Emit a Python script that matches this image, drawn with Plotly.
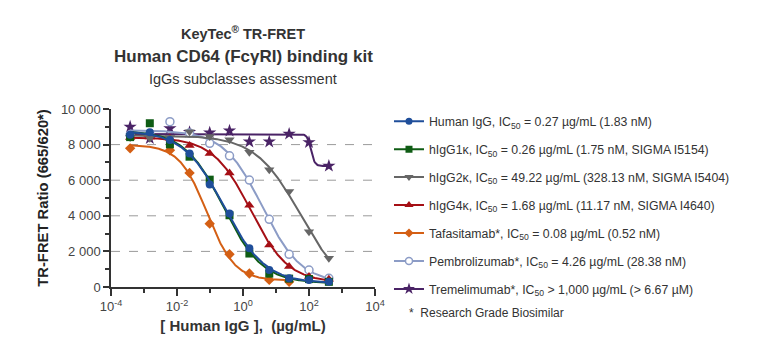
import numpy as np
import plotly.graph_objects as go

# ---------------- data ----------------
CONC = [0.00038, 0.0015, 0.0061, 0.024, 0.098, 0.39, 1.56, 6.25, 25, 100, 400]  # µg/mL

HUMAN_IGG = [8560, 8700, 8260, 7500, 5760, 4130, 2170, 960, 490, 390, 300]
HIGG1K = [8420, 9200, 8015, 7320, 6030, 4030, 1880, 750, 470, 445, 290]
HIGG2K = [8400, 8350, 8400, 8720, 8450, 8270, 7570, 6590, 5360, 3100, 1610]
HIGG4K = [8400, 8420, 8350, 7950, 7500, 6400, 4590, 2360, 1145, 585, 430]
TAFASITAMAB = [7790, None, 7680, 6410, 3560, 1840, 760, 400, 290, None, None]
PEMBROLIZUMAB = [8550, 8600, 9290, 8650, 8070, 7370, 6010, 3800, 1835, 955, 490]
TREMELIMUMAB = [9000, 8350, 8910, 8700, 8670, 8780, 8160, 8160, 8600, 8130, 6800]

SERIES_NAMES = [
    "Human IgG, IC<sub>50</sub> = 0.27 µg/mL (1.83 nM)",
    "hIgG1κ, IC<sub>50</sub> = 0.26 µg/mL (1.75 nM, SIGMA I5154)",
    "hIgG2κ, IC<sub>50</sub> = 49.22 µg/mL (328.13 nM, SIGMA I5404)",
    "hIgG4κ, IC<sub>50</sub> = 1.68 µg/mL (11.17 nM, SIGMA I4640)",
    "Tafasitamab*, IC<sub>50</sub> = 0.08 µg/mL (0.52 nM)",
    "Pembrolizumab*, IC<sub>50</sub> = 4.26 µg/mL (28.38 nM)",
    "Tremelimumab*, IC<sub>50</sub> &gt; 1,000 µg/mL (&gt; 6.67 µM)",
]
SERIES_VALUES = [HUMAN_IGG, HIGG1K, HIGG2K, HIGG4K, TAFASITAMAB, PEMBROLIZUMAB, TREMELIMUMAB]

X_TICK_VALS = [1e-4, 1e-2, 1, 1e2, 1e4]
X_TICK_TEXT = ["10<sup>-4</sup>", "10<sup>-2</sup>", "10<sup>0</sup>", "10<sup>2</sup>", "10<sup>4</sup>"]
X_MINOR_VALS = [1e-3, 1e-1, 1e1, 1e3]
Y_TICK_VALS = [0, 2000, 4000, 6000, 8000, 10000]
Y_TICK_TEXT = ["0", "2 000", "4 000", "6 000", "8 000", "10 000"]
Y_GRID_VALS = [2000, 4000, 6000, 8000]

# ---------------- styles ----------------
STYLES = [
    dict(color="#1f4e9a", symbol="circle", size=8, fill="#1f4e9a", hill=(0.3, 8)),
    dict(color="#0f5c14", symbol="square", size=8, fill="#0f5c14", hill=(0.3, 8)),
    dict(color="#666666", symbol="triangle-down", size=9, fill="#666666", hill=(0.3, 8)),
    dict(color="#a50f15", symbol="triangle-up", size=9, fill="#a50f15", hill=(0.3, 8)),
    dict(color="#d45f14", symbol="diamond", size=8, fill="#d45f14", hill=(0.3, 8)),
    dict(color="#8c9cc6", symbol="circle", size=8, fill="#ffffff", hill=(0.3, 8)),
    dict(color="#4a2366", symbol="star", size=10, fill="#4a2366", hill=(4, 8)),
]
FONT = "Arial, Liberation Sans, sans-serif"
TXT = "#333333"


def fit_4pl(x, y, hill_range):
    """Least-squares 4-parameter logistic fit (grid search on IC50/hill)."""
    x = np.asarray(x, float)
    y = np.asarray(y, float)
    lx = np.log10(x)
    L = np.arange(-4.0, 3.5, 0.01)
    H = np.arange(hill_range[0], hill_range[1], 0.02)
    F = 1.0 / (1.0 + 10.0 ** ((lx[None, None, :] - L[:, None, None]) * H[None, :, None]))
    fm = F.mean(axis=2, keepdims=True)
    ym = y.mean()
    df = F - fm
    a1 = (df * (y - ym)).sum(axis=2) / np.maximum((df ** 2).sum(axis=2), 1e-12)
    a0 = ym - a1 * fm[..., 0]
    pred = a0[..., None] + a1[..., None] * F
    sse = ((pred - y) ** 2).sum(axis=2)
    i, j = np.unravel_index(np.argmin(sse), sse.shape)
    bottom, top = a0[i, j], a0[i, j] + a1[i, j]
    return top, bottom, 10 ** L[i], H[j]


fig = go.Figure()

# dashed horizontal grid lines (none at the top of the axis)
for gv in Y_GRID_VALS:
    fig.add_shape(type="line", xref="paper", yref="y", x0=0, x1=1, y0=gv, y1=gv,
                  line=dict(color="#9a9a9a", width=1, dash="dash"), layer="below")

# draw last series first so the first series sits on top
for name, vals, st in reversed(list(zip(SERIES_NAMES, SERIES_VALUES, STYLES))):
    pts = [(c, v) for c, v in zip(CONC, vals) if v is not None]
    xs = [p[0] for p in pts]
    ys = [p[1] for p in pts]
    top, bottom, ic50, hill = fit_4pl(xs, ys, st["hill"])
    xc = np.logspace(np.log10(min(xs)), np.log10(max(xs)), 300)
    yc = bottom + (top - bottom) / (1 + (xc / ic50) ** hill)
    fig.add_trace(go.Scatter(x=xc, y=yc, mode="lines", showlegend=False,
                             line=dict(color=st["color"], width=2), hoverinfo="skip"))
    fig.add_trace(go.Scatter(x=xs, y=ys, mode="markers", showlegend=False,
                             marker=dict(symbol=st["symbol"], size=st["size"], color=st["fill"],
                                         line=dict(color=st["color"], width=1.5 if st["fill"] == "#ffffff" else 0))))

# legend entries
for k, (name, st) in enumerate(zip(SERIES_NAMES, STYLES)):
    fig.add_trace(go.Scatter(x=[None], y=[None], mode="lines+markers", name=name, legendgroup=f"g{k}",
                             line=dict(color=st["color"], width=2),
                             marker=dict(symbol=st["symbol"], size=st["size"] - 1, color=st["fill"],
                                         line=dict(color=st["color"], width=1.5 if st["fill"] == "#ffffff" else 0))))

fig.update_layout(
    width=774, height=350,
    margin=dict(l=111, r=399, t=109, b=63, autoexpand=False),
    paper_bgcolor="white", plot_bgcolor="white",
    font=dict(family=FONT, color=TXT, size=12),
    showlegend=True,
    legend=dict(x=1.053, y=1.013, xanchor="left", yanchor="top", traceorder="grouped",
                tracegroupgap=8.95, font=dict(size=12.3, color=TXT, family=FONT),
                bgcolor="rgba(0,0,0,0)", itemclick=False, maxheight=400),
)

fig.update_xaxes(
    type="log", range=[-4, 4],
    tickvals=X_TICK_VALS, ticktext=X_TICK_TEXT,
    ticks="outside", ticklen=7, tickwidth=1.5, tickcolor=TXT,
    minor=dict(tickvals=X_MINOR_VALS, ticks="outside", ticklen=4, tickwidth=1.5, tickcolor=TXT),
    showline=True, linecolor=TXT, linewidth=1.5, showgrid=False, zeroline=False,
    tickfont=dict(size=13, color="#444444"),
    title=dict(text="<b>[ Human IgG ],  (µg/mL)</b>", font=dict(size=15, color=TXT), standoff=7),
)
fig.update_yaxes(
    range=[0, 10000],
    tickvals=Y_TICK_VALS, ticktext=Y_TICK_TEXT,
    ticks="outside", ticklen=6, tickwidth=1.5, tickcolor=TXT,
    minor=dict(dtick=1000, ticks="outside", ticklen=4, tickwidth=1.5, tickcolor=TXT, showgrid=False),
    showline=True, linecolor=TXT, linewidth=1.5, zeroline=False, showgrid=False,
    tickfont=dict(size=13, color="#444444"),
    title=dict(text="<b>TR-FRET Ratio (665/620*)</b>", font=dict(size=14.8, color="#222222"), standoff=9),
)

titles = [
    ("<b>KeyTec<sup>®</sup> TR-FRET</b>", 14.5, 33),
    ("<b>Human CD64 (FcγRI) binding kit</b>", 17, 56),
    ("IgGs subclasses assessment", 14.5, 79),
]
for text, size, py in titles:
    fig.add_annotation(text=text, xref="paper", yref="paper", x=0.5, y=(287 - py) / 178,
                       xanchor="center", yanchor="middle", showarrow=False,
                       font=dict(size=size, color=TXT, family=FONT))

fig.add_annotation(text="*  Research Grade Biosimilar", xref="paper", yref="paper",
                   x=(407 - 111) / 264, y=(287 - 313) / 178, xanchor="left", yanchor="middle",
                   showarrow=False, font=dict(size=12, color=TXT, family=FONT))

fig.write_html("out.html")
